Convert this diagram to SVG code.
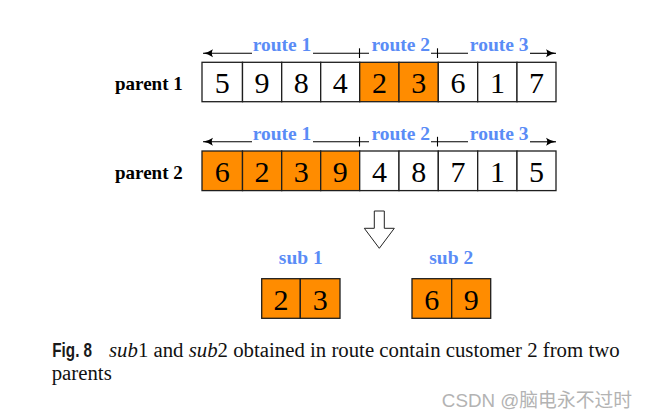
<svg xmlns="http://www.w3.org/2000/svg" width="649" height="418" viewBox="0 0 649 418">
<style>
.cell{stroke:#1e1e1e;stroke-width:1.3}
.w{fill:#ffffff}
.o{fill:#ff8c00}
.d{font-family:"Liberation Serif",serif;font-size:30px;text-anchor:middle;fill:#000}
.lbl{font-family:"Liberation Serif",serif;font-weight:bold;font-size:19px;fill:#000}
.rt{font-family:"Liberation Serif",serif;font-weight:bold;font-size:19.5px;fill:#5a8cf6;text-anchor:middle}
.dim{stroke:#000;stroke-width:1.1;fill:none}
.cap{font-family:"Liberation Serif",serif;font-size:20.8px;fill:#111}
</style>
<defs>
<marker id="ah" viewBox="0 -5 10 10" refX="10" refY="0" markerWidth="10" markerHeight="10" markerUnits="userSpaceOnUse" orient="auto-start-reverse">
<path d="M0,-4 Q5,-0.6 10,0 Q5,0.6 0,4 Q2.5,0 0,-4Z" fill="#000"/>
</marker>
</defs>
<rect width="649" height="418" fill="#fff"/>

<g id="parent1">
<text class="lbl" x="115" y="90">parent 1</text>
<g class="dim">
<line x1="203" y1="53.3" x2="252" y2="53.3" marker-start="url(#ah)"/>
<line x1="313" y1="53.3" x2="369" y2="53.3"/>
<line x1="359.5" y1="48.3" x2="359.5" y2="58"/>
<line x1="431" y1="53.3" x2="468" y2="53.3"/>
<line x1="437.5" y1="48.3" x2="437.5" y2="58"/>
<line x1="530" y1="53.3" x2="556" y2="53.3" marker-end="url(#ah)"/>
</g>
<text class="rt" x="282" y="51">route 1</text>
<text class="rt" x="400.8" y="51">route 2</text>
<text class="rt" x="499.2" y="51">route 3</text>
<rect class="cell w" x="202" y="62.3" width="40.5" height="39.4"/>
<rect class="cell w" x="242.5" y="62.3" width="39.2" height="39.4"/>
<rect class="cell w" x="281.7" y="62.3" width="39" height="39.4"/>
<rect class="cell w" x="320.7" y="62.3" width="39" height="39.4"/>
<rect class="cell o" x="359.7" y="62.3" width="39.3" height="39.4"/>
<rect class="cell o" x="399" y="62.3" width="39.3" height="39.4"/>
<rect class="cell w" x="438.3" y="62.3" width="39.4" height="39.4"/>
<rect class="cell w" x="477.7" y="62.3" width="39.3" height="39.4"/>
<rect class="cell w" x="517" y="62.3" width="39" height="39.4"/>
<text class="d" x="222.3" y="93">5</text>
<text class="d" x="262.1" y="93">9</text>
<text class="d" x="301.2" y="93">8</text>
<text class="d" x="340.2" y="93">4</text>
<text class="d" x="379.4" y="93">2</text>
<text class="d" x="418.7" y="93">3</text>
<text class="d" x="458" y="93">6</text>
<text class="d" x="497.4" y="93">1</text>
<text class="d" x="536.5" y="93">7</text>
</g>

<g id="parent2">
<text class="lbl" x="115" y="178.5">parent 2</text>
<g class="dim">
<line x1="203" y1="141.8" x2="252" y2="141.8" marker-start="url(#ah)"/>
<line x1="313" y1="141.8" x2="369" y2="141.8"/>
<line x1="359.5" y1="136.8" x2="359.5" y2="146.5"/>
<line x1="431" y1="141.8" x2="468" y2="141.8"/>
<line x1="437.5" y1="136.8" x2="437.5" y2="146.5"/>
<line x1="530" y1="141.8" x2="556" y2="141.8" marker-end="url(#ah)"/>
</g>
<text class="rt" x="282" y="139.5">route 1</text>
<text class="rt" x="400.8" y="139.5">route 2</text>
<text class="rt" x="499.2" y="139.5">route 3</text>
<rect class="cell o" x="202" y="151" width="40.5" height="39.6"/>
<rect class="cell o" x="242.5" y="151" width="39.2" height="39.6"/>
<rect class="cell o" x="281.7" y="151" width="39" height="39.6"/>
<rect class="cell o" x="320.7" y="151" width="39" height="39.6"/>
<rect class="cell w" x="359.7" y="151" width="39.3" height="39.6"/>
<rect class="cell w" x="399" y="151" width="39.3" height="39.6"/>
<rect class="cell w" x="438.3" y="151" width="39.4" height="39.6"/>
<rect class="cell w" x="477.7" y="151" width="39.3" height="39.6"/>
<rect class="cell w" x="517" y="151" width="39" height="39.6"/>
<text class="d" x="222.3" y="181.7">6</text>
<text class="d" x="262.1" y="181.7">2</text>
<text class="d" x="301.2" y="181.7">3</text>
<text class="d" x="340.2" y="181.7">9</text>
<text class="d" x="379.4" y="181.7">4</text>
<text class="d" x="418.7" y="181.7">8</text>
<text class="d" x="458" y="181.7">7</text>
<text class="d" x="497.4" y="181.7">1</text>
<text class="d" x="536.5" y="181.7">5</text>
</g>

<g id="connectors">
<polygon points="374.3,211 384.3,211 384.3,228.3 394.3,228.3 379.3,248.3 364.3,228.3 374.3,228.3" fill="#fff" stroke="#222" stroke-width="1"/>
</g>

<g id="sub1">
<text class="rt" x="300.8" y="264.3">sub 1</text>
<rect class="cell o" x="261.7" y="278.7" width="38.6" height="39.6"/>
<rect class="cell o" x="300.3" y="278.7" width="39.7" height="39.6"/>
<text class="d" x="281" y="309.7">2</text>
<text class="d" x="320.2" y="309.7">3</text>
</g>

<g id="sub2">
<text class="rt" x="451.2" y="264.3">sub 2</text>
<rect class="cell o" x="412" y="278.7" width="39.7" height="39.6"/>
<rect class="cell o" x="451.7" y="278.7" width="39" height="39.6"/>
<text class="d" x="431.8" y="309.7">6</text>
<text class="d" x="471.2" y="309.7">9</text>
</g>

<g id="caption">
<text x="52.3" y="357.3" font-family="'Liberation Sans',sans-serif" font-weight="bold" font-size="19.5" fill="#1a1a1a" textLength="39.8" lengthAdjust="spacingAndGlyphs">Fig. 8</text>
<text class="cap" x="109" y="357.3"><tspan font-style="italic">sub</tspan>1 and <tspan font-style="italic">sub</tspan>2 obtained in route contain customer 2 from two</text>
<text class="cap" x="51.7" y="380">parents</text>
<text x="632" y="406.5" text-anchor="end" font-family="'Liberation Sans','Noto Sans CJK SC',sans-serif" font-size="18.8" fill="#b3b3b3">CSDN @脑电永不过时</text>
</g>
</svg>
